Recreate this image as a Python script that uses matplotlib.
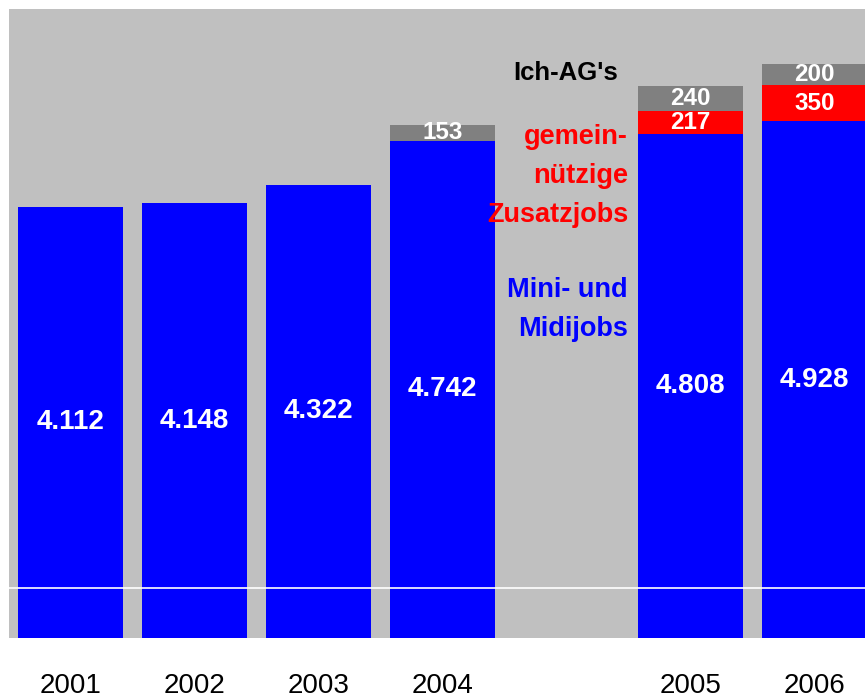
import matplotlib.pyplot as plt
import numpy as np

# data
years = ['2001', '2002', '2003', '2004', '2005', '2006']
slots = [0, 1, 2, 3, 5, 6]  # slot 4 left empty for the labels
mini_midi = [4112, 4148, 4322, 4742, 4808, 4928]
zusatzjobs = [0, 0, 0, 0, 217, 350]
ich_ag = [0, 0, 0, 153, 240, 200]

fig = plt.figure(figsize=(8.65, 6.99), dpi=100)
ax = fig.add_axes([9/865, 1 - 638/699, 1 - 9/865, 629/699])
ax.set_facecolor('#C0C0C0')

font = ['Liberation Sans', 'DejaVu Sans']
w = 0.847
x = np.array(slots, dtype=float)
mm = np.array(mini_midi)
zj = np.array(zusatzjobs)
ia = np.array(ich_ag)

ax.bar(x, mm, width=w, color='#0000FF', zorder=2)
ax.bar(x, zj, width=w, bottom=mm, color='#FF0000', zorder=2)
ax.bar(x, ia, width=w, bottom=mm + zj, color='#808080', zorder=2)

# white line across the bars near the bottom
ax.axhline(477, color='white', lw=1.2, zorder=3)

# value labels
for xi, a, b, c in zip(x, mm, zj, ia):
    ax.text(xi, a / 2, f'{a/1000:.3f}', ha='center', va='center', color='white',
            fontsize=20, fontweight='bold', family=font, zorder=4)
    if b:
        ax.text(xi, a + b / 2, str(b), ha='center', va='center', color='white',
                fontsize=17.5, fontweight='bold', family=font, zorder=4)
    if c:
        ax.text(xi, a + b + c / 2, str(c), ha='center', va='center', color='white',
                fontsize=17.5, fontweight='bold', family=font, zorder=4)

# series labels in the empty slot
ax.text(4.415, 5390, "Ich-AG's", ha='right', va='center', color='black',
        fontsize=18.5, fontweight='bold', family=font)
for txt, yv in zip(['gemein-', 'nützige', 'Zusatzjobs'], [4780, 4408, 4036]):
    ax.text(4.496, yv, txt, ha='right', va='center', color='#FF0000',
            fontsize=19.5, fontweight='bold', family=font)
for txt, yv in zip(['Mini- und', 'Midijobs'], [3321, 2949]):
    ax.text(4.496, yv, txt, ha='right', va='center', color='#0000FF',
            fontsize=19.5, fontweight='bold', family=font)

ax.set_xlim(-0.496, 6.407)
ax.set_ylim(0, 6000)
ax.set_xticks(x)
ax.set_xticklabels(years, fontsize=20, family=font)
ax.tick_params(axis='x', length=0, pad=25)
ax.set_yticks([])
for s in ax.spines.values():
    s.set_visible(False)

fig.savefig('out.png', dpi=100)
